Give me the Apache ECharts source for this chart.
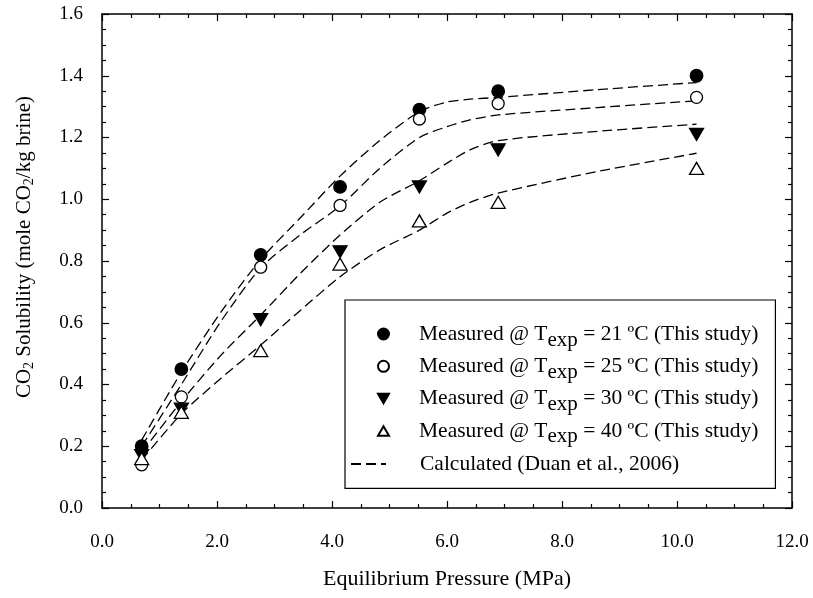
<!DOCTYPE html>
<html>
<head>
<meta charset="utf-8">
<script src="https://cdn.jsdelivr.net/npm/echarts@6/dist/echarts.min.js"></script>
<style>
  html, body { margin: 0; padding: 0; background: #fff; }
  #chart { width: 813px; height: 598px; }
</style>
</head>
<body>
<div id="chart"></div>
<script>
// Measured CO2 solubility at each equilibrium pressure (MPa)
var pressure = [0.69, 1.38, 2.76, 4.14, 5.52, 6.89, 10.34];
var meas21 = [0.20, 0.45, 0.82, 1.04, 1.29, 1.35, 1.40];
var meas25 = [0.14, 0.36, 0.78, 0.98, 1.26, 1.31, 1.33];
var meas30 = [0.17, 0.32, 0.61, 0.83, 1.04, 1.16, 1.21];
var meas40 = [0.16, 0.31, 0.51, 0.79, 0.93, 0.99, 1.10];

// Model curves (Duan et al., 2006)
var calcP  = [0.69, 1.38, 2.07, 2.76, 3.45, 4.14, 4.83, 5.52, 6.0, 6.4, 6.89, 8.62, 10.34];
var calc21 = [0.22, 0.44, 0.635, 0.805, 0.94, 1.075, 1.19, 1.284, 1.315, 1.324, 1.330, 1.355, 1.378];
var calc25 = [0.20, 0.40, 0.605, 0.778, 0.885, 0.978, 1.10, 1.20, 1.235, 1.257, 1.273, 1.297, 1.319];
var calc30 = [0.18, 0.345, 0.495, 0.625, 0.76, 0.884, 0.99, 1.06, 1.117, 1.16, 1.19, 1.22, 1.243];
var calc40 = [0.155, 0.305, 0.42, 0.528, 0.64, 0.749, 0.836, 0.90, 0.955, 0.99, 1.02, 1.09, 1.149];

var xTicks = [0, 12, 2];
var yTicks = [0, 1.6, 0.2];

var measNames = [
  'Measured @ T{sub|exp} = 21 ºC (This study)',
  'Measured @ T{sub|exp} = 25 ºC (This study)',
  'Measured @ T{sub|exp} = 30 ºC (This study)',
  'Measured @ T{sub|exp} = 40 ºC (This study)'
];
var calcName = 'Calculated (Duan et al., 2006)';

var FONT = '"Liberation Serif", "Times New Roman", serif';
var downTri = 'path://M0,0 L10,0 L5,8.66 Z';
var upTri = 'path://M5,0 L10,8.66 L0,8.66 Z';

function pairs(xs, ys) {
  return xs.map(function (x, i) { return [x, ys[i]]; });
}

var markerDefs = [
  { data: meas21, symbol: 'circle', size: 12.5, fill: '#000' },
  { data: meas25, symbol: 'circle', size: 12, fill: '#fff' },
  { data: meas30, symbol: downTri, size: [14, 12], fill: '#000' },
  { data: meas40, symbol: upTri, size: [14, 12], fill: '#fff' }
];

var series = [];
[calc21, calc25, calc30, calc40].forEach(function (c) {
  series.push({
    name: calcName,
    type: 'line',
    data: pairs(calcP, c),
    smooth: 0.25,
    symbol: 'none',
    itemStyle: { color: '#000' },
    lineStyle: { color: '#000', width: 1.3, type: [10, 5] },
    z: 2
  });
});
markerDefs.forEach(function (m, i) {
  series.push({
    name: measNames[i],
    type: 'scatter',
    data: pairs(pressure, m.data),
    symbol: m.symbol,
    symbolSize: m.size,
    itemStyle: { color: m.fill, borderColor: '#000', borderWidth: 1.3, opacity: 1 },
    z: 3
  });
});

var tickStyle = { show: true, inside: true, length: 7, lineStyle: { color: '#000', width: 1.2 } };
var minorStyle = { show: true, splitNumber: 4, length: 4, lineStyle: { color: '#000', width: 1.2 } };
var lineStyle = { show: true, onZero: false, lineStyle: { color: '#000', width: 1.5 } };

var legendText = {
  color: '#000', fontFamily: FONT, fontSize: 21.5,
  rich: { sub: { fontFamily: FONT, fontSize: 21, verticalAlign: 'bottom', padding: [12, 0, 0, 0] } }
};

var option = {
  animation: false,
  backgroundColor: '#fff',
  grid: { left: 102, right: 21, top: 14, bottom: 90, containLabel: false },
  xAxis: [{
    type: 'value', min: xTicks[0], max: xTicks[1], interval: xTicks[2],
    position: 'bottom',
    axisLine: lineStyle, axisTick: tickStyle, minorTick: minorStyle,
    splitLine: { show: false },
    axisLabel: { color: '#000', fontFamily: FONT, fontSize: 19, margin: 25,
      formatter: function (v) { return v.toFixed(1); } },
    name: 'Equilibrium Pressure (MPa)', nameLocation: 'middle', nameGap: 60,
    nameTextStyle: { color: '#000', fontFamily: FONT, fontSize: 22 }
  }, {
    type: 'value', min: xTicks[0], max: xTicks[1], interval: xTicks[2],
    position: 'top',
    axisLine: lineStyle, axisTick: tickStyle, minorTick: minorStyle,
    splitLine: { show: false }, axisLabel: { show: false }
  }],
  yAxis: [{
    type: 'value', min: yTicks[0], max: yTicks[1], interval: yTicks[2],
    position: 'left',
    axisLine: lineStyle, axisTick: tickStyle, minorTick: minorStyle,
    splitLine: { show: false },
    axisLabel: { color: '#000', fontFamily: FONT, fontSize: 19, margin: 19,
      formatter: function (v) { return v.toFixed(1); } },
    name: 'CO{sub|2} Solubility (mole CO{sub|2}/kg brine)', nameLocation: 'middle', nameGap: 66,
    nameTextStyle: { color: '#000', fontFamily: FONT, fontSize: 21, padding: [0, 0, 0, 28],
      rich: { sub: { fontFamily: FONT, fontSize: 14, verticalAlign: 'bottom', padding: [10, 0, 0, 0] } } }
  }, {
    type: 'value', min: yTicks[0], max: yTicks[1], interval: yTicks[2],
    position: 'right',
    axisLine: lineStyle, axisTick: tickStyle, minorTick: minorStyle,
    splitLine: { show: false }, axisLabel: { show: false }
  }],
  legend: [{
    // framed legend holding the four measured series
    orient: 'vertical',
    left: 345, top: 300,
    padding: [23, 17, 41, 32],
    itemGap: 4.8,
    itemWidth: 11, itemHeight: 11,
    borderColor: '#000', borderWidth: 1.2, backgroundColor: '#fff',
    selectedMode: false,
    data: measNames,
    textStyle: Object.assign({ padding: [0, 0, 0, 25] }, legendText)
  }, {
    // model curve entry, sitting inside the same frame
    orient: 'vertical',
    left: 350, top: 453,
    padding: 0,
    itemWidth: 35, itemHeight: 11,
    selectedMode: false,
    data: [{ name: calcName, itemStyle: { opacity: 0 } }],
    textStyle: Object.assign({ padding: [0, 0, 0, 29] }, legendText)
  }],
  series: series
};

var chart = echarts.init(document.getElementById('chart'), null, { renderer: 'canvas' });
chart.setOption(option);
</script>
</body>
</html>
